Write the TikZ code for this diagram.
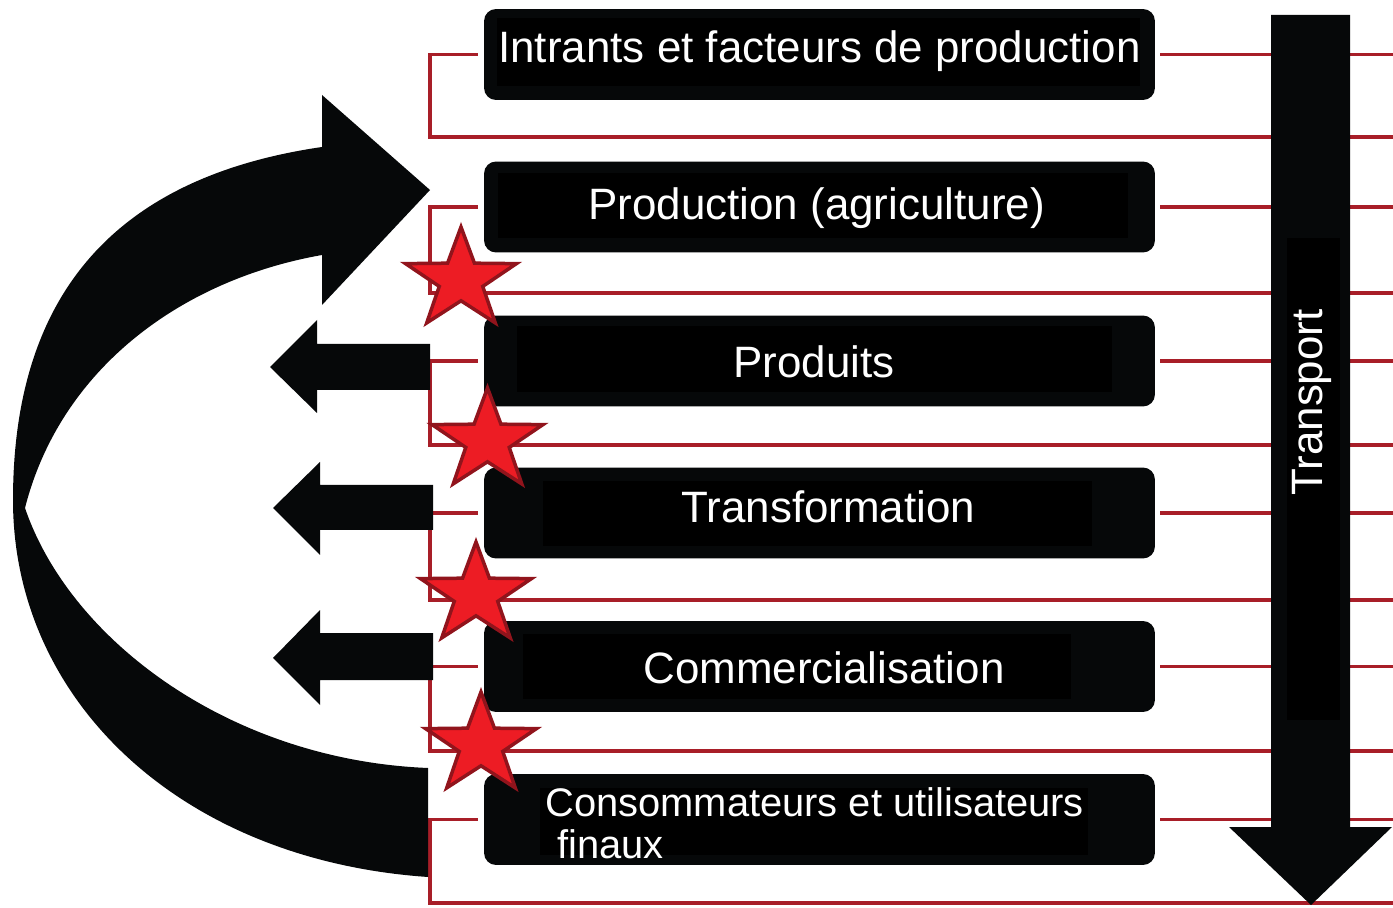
\documentclass[tikz,border=0pt]{standalone}
\usepackage{fontspec}
\setmainfont{Liberation Sans}
\usetikzlibrary{shapes.geometric}
\definecolor{boxblack}{RGB}{6,8,9}
\definecolor{redline}{RGB}{168,30,40}
\definecolor{starfill}{RGB}{237,28,36}
\definecolor{starline}{RGB}{145,20,28}
\begin{document}
\begin{tikzpicture}[x=0.02cm,y=-0.02cm,
  stagebox/.style={fill=boxblack, rounded corners=0.24cm, minimum width=13.42cm, minimum height=1.82cm, inner sep=0pt, draw=none},
  innerbox/.style={fill=black, draw=none},
  lab/.style={text=white, inner sep=0pt, anchor=base west, font=\fontsize{25}{30}\selectfont},
  smalllab/.style={lab, font=\fontsize{22.7}{27}\selectfont},
  link/.style={draw=redline, line width=0.075cm},
  starmark/.style={star, star points=5, star point ratio=2.55, minimum size=2.12cm, inner sep=0pt, fill=starfill, draw=starline, line width=0.07cm, xscale=1.1},
  bigarrow/.style={fill=boxblack, draw=none}]

\useasboundingbox (0,0) rectangle (1393,908);

% stage boxes
\node[stagebox] (b1) at (819.5,54.5) {};
\node[stagebox] (b2) at (819.5,207) {};
\node[stagebox] (b3) at (819.5,361) {};
\node[stagebox] (b4) at (819.5,513) {};
\node[stagebox] (b5) at (819.5,666.5) {};
\node[stagebox] (b6) at (819.5,819.5) {};

% red connectors
\draw[link] ([xshift=-0.12cm]b1.west) -| (430,137) -- (1393,137);
\draw[link] ([xshift=-0.12cm]b2.west) -| (430,293) -- (1393,293);
\draw[link] ([xshift=-0.12cm]b3.west) -| (430,445) -- (1393,445);
\draw[link] ([xshift=-0.12cm]b4.west) -| (430,600) -- (1393,600);
\draw[link] ([xshift=-0.12cm]b5.west) -| (430,751) -- (1393,751);
\draw[link] ([xshift=-0.12cm]b6.west) -| (430,903) -- (1393,903);
\draw[link] ([xshift=0.1cm]b1.east) -- (1393,54.5);
\draw[link] ([xshift=0.1cm]b2.east) -- (1393,207);
\draw[link] ([xshift=0.1cm]b3.east) -- (1393,361);
\draw[link] ([xshift=0.1cm]b4.east) -- (1393,513);
\draw[link] ([xshift=0.1cm]b5.east) -- (1393,666.5);
\draw[link] ([xshift=0.1cm]b6.east) -- (1393,819.5);

% inner text backgrounds
\fill[innerbox] (497,18) rectangle (1140,86);
\fill[innerbox] (498,173) rectangle (1128,238);
\fill[innerbox] (517,326) rectangle (1112,392);
\fill[innerbox] (543,481) rectangle (1092,546);
\fill[innerbox] (523,634) rectangle (1071,699);
\fill[innerbox] (540,788) rectangle (1088,855);

% labels
\node[lab] (t1) at (498,63) {Intrants et facteurs de production};
\node[lab] (t2) at (588,220) {Production (agriculture)};
\node[lab] (t3) at (733,378) {Produits};
\node[lab] (t4) at (681,523) {Transformation};
\node[lab] (t5) at (643,683) {Commercialisation};
\node[smalllab] (t6) at (545,816) {Consommateurs et utilisateurs};
\node[smalllab] (t7) at (557,858) {finaux};

% transport arrow
\fill[bigarrow] (1271,15) -- (1350,15) -- (1350,827) -- (1392,827) -- (1311,905) -- (1229,827) -- (1271,827) -- cycle;
\fill[innerbox] (1287,238) rectangle (1340,720);
\node[lab, anchor=base, rotate=90] (tr) at (1322,402.5) {Transport};

% left arrows
\fill[bigarrow] (270,367) -- (317,320) -- (317,344) -- (430,344) -- (430,390) -- (317,390) -- (317,413) -- cycle;
\fill[bigarrow] (273,508) -- (320,462) -- (320,485) -- (433,485) -- (433,530) -- (320,530) -- (320,555) -- cycle;
\fill[bigarrow] (273,658) -- (320,610) -- (320,633) -- (433,633) -- (433,680) -- (320,680) -- (320,705) -- cycle;

% curved feedback arrow
\fill[bigarrow] (430,190) -- (322,305) -- (322,255)
  .. controls (180,280) and (60,370) .. (25,508)
  .. controls (70,640) and (230,760) .. (428,768)
  -- (428,877)
  .. controls (180,860) and (13,700) .. (13,500)
  .. controls (13,280) and (130,175) .. (322,147)
  -- (322,95) -- cycle;

% stars
\node[starmark] (s1) at (461,280) {};
\node[starmark] (s2) at (487.5,441) {};
\node[starmark] (s3) at (476,595) {};
\node[starmark] (s4) at (481,745) {};
\end{tikzpicture}
\end{document}
